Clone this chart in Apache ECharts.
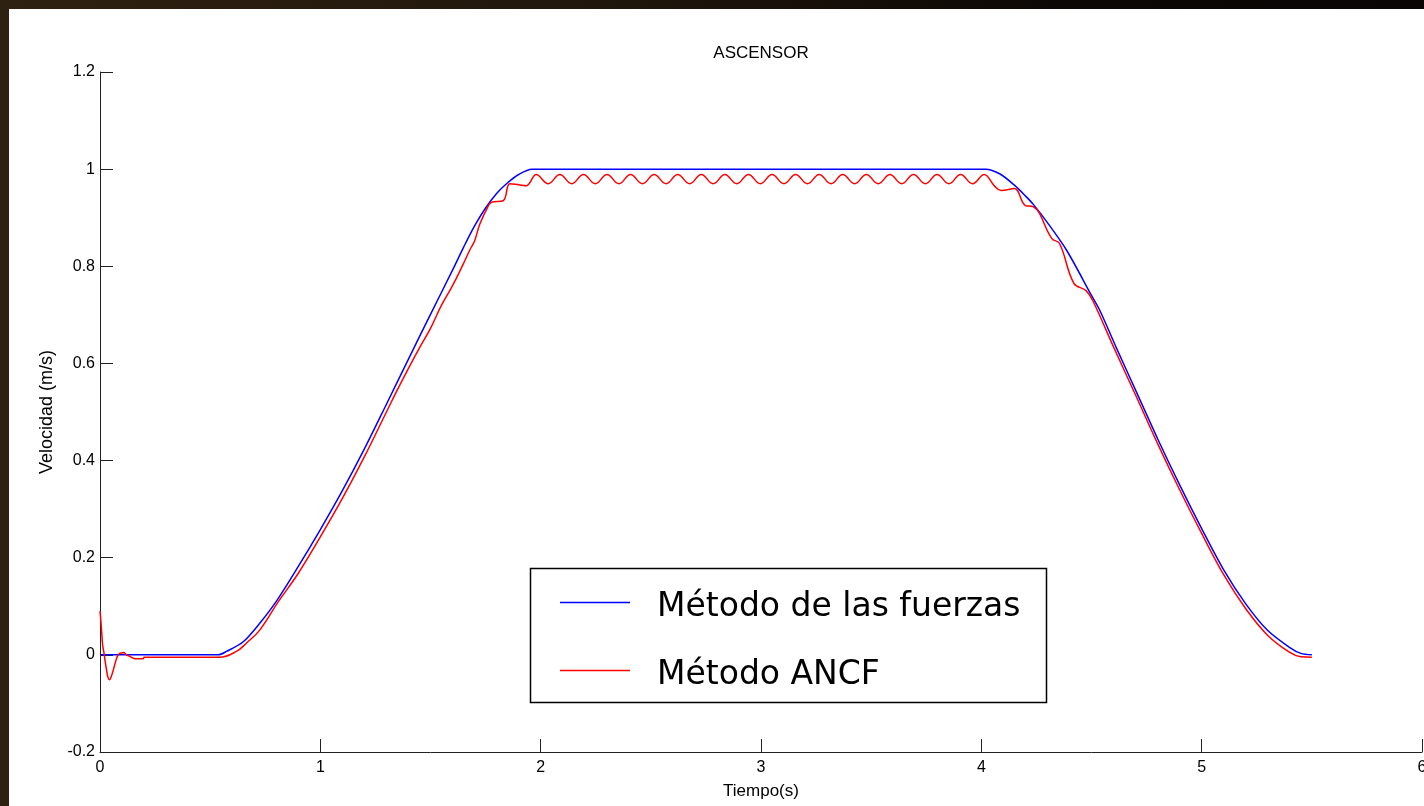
<!DOCTYPE html>
<html>
<head>
<meta charset="utf-8">
<title>ASCENSOR</title>
<script src="https://cdn.jsdelivr.net/npm/echarts@6/dist/echarts.min.js"></script>
<style>
  html, body { margin: 0; padding: 0; }
  body {
    width: 1424px; height: 806px; overflow: hidden; position: relative;
    background: linear-gradient(to right, #2f2111 0%, #21170c 40%, #0c0805 75%, #080504 100%);
  }
  #chart {
    position: absolute; left: 9px; top: 9px; width: 1415px; height: 797px;
    background: #ffffff;
  }
</style>
</head>
<body>
<div id="chart"></div>
<script>
// Elevator speed profile: force method vs. ANCF model
const chartTitle = 'ASCENSOR';
const xAxisName = 'Tiempo(s)';
const yAxisName = 'Velocidad (m/s)';
const seriesNames = ['Método de las fuerzas', 'Método ANCF'];
const xTicks = [0, 1, 2, 3, 4, 5, 6];
const yTicks = [-0.2, 0, 0.2, 0.4, 0.6, 0.8, 1, 1.2];

// Force method (smooth S-curve profile)
const fuerzasTime = [
  0, 0.2, 0.4, 0.537, 0.574, 0.65, 0.725, 0.8, 0.9, 1.0, 1.1, 1.2, 1.3, 1.4, 1.5, 1.6,
  1.65, 1.7, 1.75, 1.8, 1.85, 1.9, 1.96, 2.5, 3.0, 3.5, 4.02,
  4.085, 4.15, 4.2, 4.235, 4.3, 4.387, 4.5, 4.538, 4.615, 4.7, 4.8, 4.9, 5.0, 5.1, 5.2, 5.3, 5.4, 5.45, 5.5
];
const fuerzasVel = [
  0, 0, 0, 0, 0.007, 0.027, 0.065, 0.11, 0.182, 0.258, 0.338, 0.424, 0.516, 0.609, 0.701, 0.792,
  0.839, 0.883, 0.92, 0.95, 0.972, 0.989, 1.0, 1.0, 1.0, 1.0, 1.0,
  0.99, 0.967, 0.945, 0.928, 0.89, 0.833, 0.74, 0.709, 0.63, 0.545, 0.445, 0.35, 0.26, 0.175, 0.105, 0.05, 0.015, 0.003, 0
];

// ANCF model (start-up transient, lagging rise, ripple at cruise speed)
const ancfTime = [
  0, 0.003, 0.008, 0.012, 0.018, 0.024, 0.03, 0.036, 0.044, 0.05, 0.056, 0.064, 0.072, 0.08, 0.09, 0.1, 0.106,
  0.12, 0.135, 0.158, 0.197, 0.2, 0.3, 0.4, 0.543,
  0.619, 0.664, 0.725, 0.81, 0.9, 1.0, 1.1, 1.2, 1.3, 1.35, 1.4, 1.45, 1.5, 1.55, 1.6, 1.65, 1.68, 1.7,
  1.724, 1.763, 1.777, 1.83, 1.86, 1.9, 1.935, 1.98,
  2.034, 2.087, 2.141, 2.194, 2.248, 2.301, 2.355, 2.408, 2.462, 2.515, 2.569, 2.622, 2.676, 2.729,
  2.783, 2.836, 2.890, 2.943, 2.997, 3.050, 3.104, 3.157, 3.211, 3.264, 3.318, 3.371, 3.425, 3.478,
  3.532, 3.585, 3.639, 3.692, 3.746, 3.799, 3.853, 3.906, 3.960, 4.013,
  4.06, 4.09, 4.15, 4.2, 4.235, 4.32, 4.355, 4.42, 4.475, 4.505, 4.6, 4.7, 4.8, 4.9, 5.0, 5.1, 5.2,
  5.3, 5.4, 5.45, 5.5
];
const ancfVel = [
  0.09, 0.075, 0.045, 0.02, 0.004, -0.015, -0.032, -0.046, -0.051, -0.046, -0.038, -0.025, -0.012, -0.002, 0.003, 0.004, 0.005,
  0.0, -0.003, -0.008, -0.008, -0.005, -0.005, -0.005, -0.005,
  0.007, 0.024, 0.051, 0.11, 0.168, 0.243, 0.322, 0.408, 0.5, 0.546, 0.59, 0.632, 0.672, 0.72, 0.76, 0.806, 0.835, 0.852,
  0.887, 0.925, 0.932, 0.935, 0.97, 0.968, 0.966, 0.989,
  0.970, 0.989, 0.970, 0.989, 0.970, 0.989, 0.970, 0.989, 0.970, 0.989, 0.970, 0.989, 0.970, 0.989,
  0.970, 0.989, 0.970, 0.989, 0.970, 0.989, 0.970, 0.989, 0.970, 0.989, 0.970, 0.989, 0.970, 0.989,
  0.970, 0.989, 0.970, 0.989, 0.970, 0.989, 0.970, 0.989, 0.970, 0.989,
  0.965, 0.956, 0.96, 0.925, 0.923, 0.857, 0.847, 0.765, 0.75, 0.73, 0.634, 0.535, 0.435, 0.34, 0.25, 0.165, 0.095,
  0.04, 0.005, -0.004, -0.005
];

const zip = (xs, ys) => xs.map((x, i) => [x, ys[i]]);
const fmt = v => String(Math.round(v * 10) / 10);

const chart = echarts.init(document.getElementById('chart'), null, { renderer: 'canvas' });

const axisFont = { fontFamily: 'Liberation Sans, Arial, sans-serif', fontSize: 16, color: '#000' };

// legend swatch: a thin bar in a 70x14 box, sitting a little above the box centre
const legendIcon = 'path://M0,0L0.01,0L0,0.01Z M0,1.25L70,1.25L70,2.75L0,2.75Z M69.99,14L70,14L70,13.99Z';

chart.setOption({
  animation: false,
  backgroundColor: '#ffffff',
  grid: { left: 91, right: 2, top: 63, bottom: 54, containLabel: false, outerBoundsMode: 'none' },
  graphic: [
    {
      type: 'text', x: 752, y: 44, z: 10,
      style: {
        text: chartTitle, font: '17px "Liberation Sans", Arial, sans-serif', fill: '#000',
        align: 'center', verticalAlign: 'middle'
      }
    },
    {
      type: 'rect', z: 20,
      shape: { x: 521.5, y: 559.5, width: 516, height: 134 },
      style: { fill: '#ffffff', stroke: '#000', lineWidth: 1.5 }
    }
  ],
  legend: {
    show: true,
    orient: 'vertical',
    left: 551, top: 575, z: 30,
    padding: 0,
    itemWidth: 70, itemHeight: 14,
    itemGap: 21,
    icon: legendIcon,
    data: seriesNames,
    textStyle: {
      fontFamily: 'DejaVu Sans, Verdana, sans-serif', fontSize: 33, color: '#000',
      lineHeight: 40, padding: [7, 0, 0, 22]
    }
  },
  xAxis: {
    type: 'value', min: 0, max: 6, interval: 1,
    name: xAxisName, nameLocation: 'middle', nameGap: 31,
    nameTextStyle: { fontFamily: 'Liberation Sans, Arial, sans-serif', fontSize: 17, color: '#000' },
    axisLine: { show: true, onZero: false, lineStyle: { color: '#222', width: 1 } },
    axisTick: { show: true, inside: true, length: 13, lineStyle: { color: '#222', width: 1 } },
    axisLabel: Object.assign({ margin: 8, formatter: v => fmt(v) }, axisFont),
    splitLine: { show: false }
  },
  yAxis: {
    type: 'value', min: -0.2, max: 1.2, interval: 0.2,
    name: yAxisName, nameLocation: 'middle', nameGap: 42,
    nameTextStyle: { fontFamily: 'Liberation Sans, Arial, sans-serif', fontSize: 18, color: '#000' },
    axisLine: { show: true, onZero: false, lineStyle: { color: '#222', width: 1 } },
    axisTick: { show: true, inside: true, length: 13, lineStyle: { color: '#222', width: 1 } },
    axisLabel: Object.assign({ margin: 5, formatter: v => fmt(v) }, axisFont),
    splitLine: { show: false }
  },
  series: [
    {
      name: seriesNames[0], type: 'line', showSymbol: false, symbol: 'none',
      smooth: 0.3, z: 3,
      lineStyle: { color: '#0000ff', width: 1.5 },
      itemStyle: { color: '#0000ff' },
      data: zip(fuerzasTime, fuerzasVel)
    },
    {
      name: seriesNames[1], type: 'line', showSymbol: false, symbol: 'none',
      smooth: 0.4, z: 4,
      lineStyle: { color: '#ff0000', width: 1.5 },
      itemStyle: { color: '#ff0000' },
      data: zip(ancfTime, ancfVel)
    }
  ]
});
</script>
</body>
</html>
